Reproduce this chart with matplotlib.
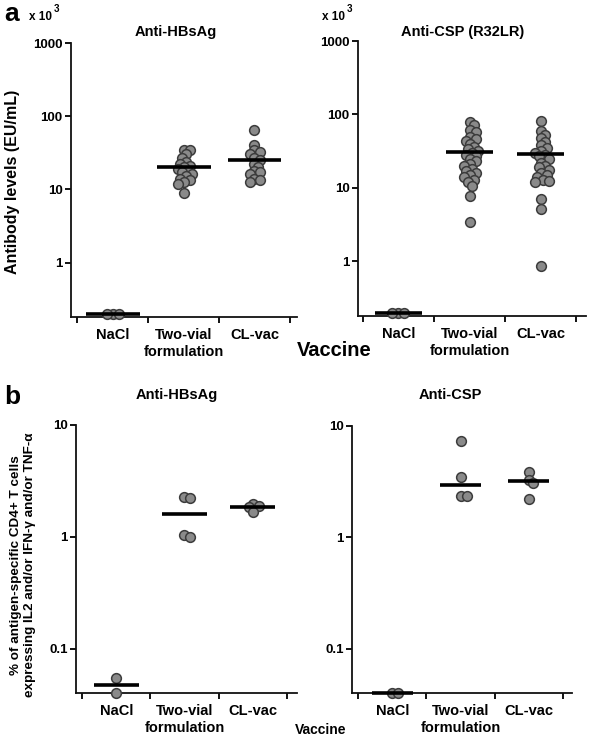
import numpy as np
import matplotlib
matplotlib.use("Agg")
import matplotlib.pyplot as plt
from matplotlib.ticker import FixedLocator, NullLocator

plt.rcParams['font.family'] = ['Liberation Sans', 'DejaVu Sans']
plt.rcParams['font.weight'] = 'bold'

# ---------------- data ----------------
categories = ["NaCl", "Two-vial\nformulation", "CL-vac"]

# panel a: antibody levels (x10^3 EU/mL)
a_hbs_nacl = [0.2, 0.2, 0.2]
a_hbs_two = [35, 34, 30, 27, 24, 22, 21, 20, 19, 18, 17, 16, 15, 14, 13.5, 12.5, 12, 9]
a_hbs_cl = [65, 40, 34, 32, 30, 27, 25, 22, 20, 18, 17, 16, 14, 13.5, 12.5]
a_hbs_med = [0.2, 20.3, 24.9]

a_csp_nacl = [0.2, 0.2, 0.2]
a_csp_two = [79, 71, 62, 58, 50, 46, 44, 40, 36, 34, 32, 30, 28, 27, 25, 23, 21, 20,
             18, 17, 16, 15, 14, 13, 12, 10.5, 7.7, 3.4]
a_csp_cl = [81, 60, 53, 48, 42, 38, 35, 32, 30, 28, 27, 25, 22, 20, 19, 17.5, 16, 15,
            14, 13, 12.5, 12, 7.0, 5.1, 0.87]
a_csp_med = [0.2, 30.5, 28.9]

# panel b: % antigen-specific CD4+ T cells
b_hbs_nacl = [0.054, 0.040]
b_hbs_two = [2.28, 2.2, 1.04, 1.0]
b_hbs_cl = [1.95, 1.9, 1.85, 1.66]
b_hbs_med = [0.047, 1.6, 1.86]

b_csp_nacl = [0.04, 0.04]
b_csp_two = [7.3, 3.45, 2.33, 2.33]
b_csp_cl = [3.83, 3.3, 3.1, 2.19]
b_csp_med = [0.04, 2.93, 3.2]

a_yticks = [1, 10, 100, 1000]
b_yticks = [0.1, 1, 10]

# ---------------- style ----------------
W, H = 590, 743
fig = plt.figure(figsize=(W / 100, H / 100), dpi=100)
FACE = '#8a8a8a'
EDGE = '#3c3c3c'
MS = 7.0  # marker size (pt)
TICKFS = 9.5
CATFS = 10.5
TITLEFS = 10.5


def px_axes(x0, y0, x1, y1):
    return fig.add_axes([x0 / W, 1 - y1 / H, (x1 - x0) / W, (y1 - y0) / H])


def swarm(ax, xc, vals, diam_px):
    vals = np.asarray(vals, float)
    pts = ax.transData.transform(np.column_stack([np.full(len(vals), xc), vals]))
    x0 = pts[0, 0]
    ys = pts[:, 1]
    order = np.argsort(-vals)
    placed = []
    xs = np.zeros(len(vals))
    min_d = 0.5 * diam_px
    step = 2.0
    for i in order:
        for k in range(0, 60):
            cands = [0] if k == 0 else [k, -k]
            ok = None
            for c in cands:
                xc_px = x0 + c * step
                if all((xc_px - px) ** 2 + (ys[i] - py) ** 2 >= min_d ** 2 for px, py in placed):
                    ok = xc_px
                    break
            if ok is not None:
                xs[i] = ok
                placed.append((ok, ys[i]))
                break
    data = ax.transData.inverted().transform(np.column_stack([xs, ys]))
    return data[:, 0]


def style_axes(ax, ylim, yticks, xlim):
    ax.set_yscale('log')
    ax.set_ylim(*ylim)
    ax.set_xlim(*xlim)
    for s in ['top', 'right']:
        ax.spines[s].set_visible(False)
    for s in ['left', 'bottom']:
        ax.spines[s].set_linewidth(1.3)
        ax.spines[s].set_color('#111111')
    ax.yaxis.set_major_locator(FixedLocator(yticks))
    ax.yaxis.set_minor_locator(NullLocator())
    ax.set_yticklabels([('%g' % t) for t in yticks], fontsize=TICKFS, fontweight='bold')
    ax.xaxis.set_major_locator(FixedLocator([0.5, 1.5, 2.5, 3.5]))
    ax.xaxis.set_major_formatter(plt.NullFormatter())
    ax.xaxis.set_minor_locator(FixedLocator([1, 2, 3]))
    ax.set_xticklabels(categories, minor=True, fontsize=CATFS, fontweight='bold', linespacing=1.3)
    ax.tick_params(axis='x', which='minor', length=0, pad=8)
    ax.tick_params(axis='x', which='major', length=4, width=1.3, direction='out')
    ax.tick_params(axis='y', which='major', length=4, width=1.3, direction='out', pad=2)


def draw_panel(ax, groups, meds, diam_px, half_w):
    for i, vals in enumerate(groups):
        xc = i + 1
        xs = swarm(ax, xc, vals, diam_px)
        ax.plot(xs, vals, 'o', ms=MS, mfc=FACE, mec=EDGE, mew=1.1, clip_on=False, zorder=3)
        ax.plot([xc - half_w, xc + half_w], [meds[i], meds[i]], color='black', lw=2.6,
                solid_capstyle='butt', zorder=4, clip_on=False)


# panel a
ax1 = px_axes(71, 43, 297, 317)
style_axes(ax1, (0.18, 1000), a_yticks, (0.41, 3.6))
ax2 = px_axes(358, 41, 586, 316)
style_axes(ax2, (0.18, 1000), a_yticks, (0.43, 3.64))
# panel b
ax3 = px_axes(76, 425, 297, 693)
style_axes(ax3, (0.04, 10), b_yticks, (0.41, 3.65))
ax4 = px_axes(352, 426, 572, 693)
style_axes(ax4, (0.04, 10), b_yticks, (0.41, 3.63))

draw_panel(ax1, [a_hbs_nacl, a_hbs_two, a_hbs_cl], a_hbs_med, 10, 0.38)
draw_panel(ax2, [a_csp_nacl, a_csp_two, a_csp_cl], a_csp_med, 10, 0.33)
draw_panel(ax3, [b_hbs_nacl, b_hbs_two, b_hbs_cl], b_hbs_med, 9, 0.33)
draw_panel(ax4, [b_csp_nacl, b_csp_two, b_csp_cl], b_csp_med, 9, 0.3)


def ftext(x, y, s, **kw):
    fig.text(x / W, 1 - y / H, s, **kw)


# titles
ftext(176, 32, "Anti-HBsAg", ha='center', va='center', fontsize=TITLEFS, fontweight='bold')
ftext(463, 32, "Anti-CSP (R32LR)", ha='center', va='center', fontsize=TITLEFS, fontweight='bold')
ftext(177, 395, "Anti-HBsAg", ha='center', va='center', fontsize=TITLEFS, fontweight='bold')
ftext(450, 395, "Anti-CSP", ha='center', va='center', fontsize=TITLEFS, fontweight='bold')

# panel letters
ftext(12, 14, "a", ha='center', va='center', fontsize=19, fontweight='bold')
ftext(12, 397, "b", ha='center', va='center', fontsize=19, fontweight='bold')

# x 10^3 labels
for xx in (29, 322):
    ftext(xx, 17, "x 10", ha='left', va='center', fontsize=8.5, fontweight='bold')
    ftext(xx + 25, 9, "3", ha='left', va='center', fontsize=7, fontweight='bold')

# y labels
ftext(13, 182, "Antibody levels (EU/mL)", ha='center', va='center', rotation=90,
      fontsize=11.5, fontweight='bold')
ftext(23, 565, "% of antigen-specific CD4+ T cells\nexpressing IL2 and/or IFN-\u03b3 and/or TNF-\u03b1",
      ha='center', va='center', rotation=90, fontsize=9.7, fontweight='bold', linespacing=1.2)

# x labels
ftext(334, 350, "Vaccine", ha='center', va='center', fontsize=14.5, fontweight='bold')
ftext(321, 730, "Vaccine", ha='center', va='center', fontsize=10, fontweight='bold')

fig.savefig("out.png", dpi=100)
